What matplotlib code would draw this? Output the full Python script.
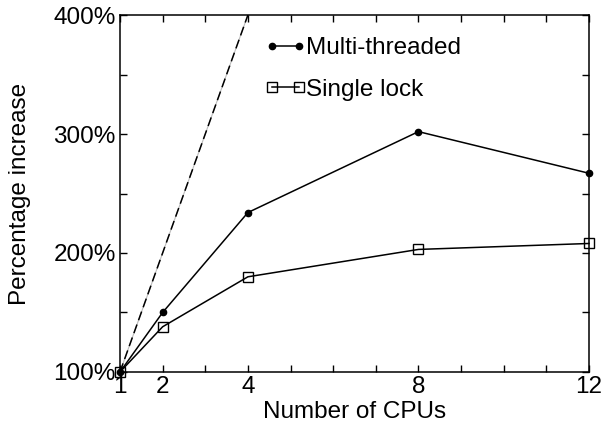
import matplotlib
matplotlib.use('Agg')
import matplotlib.pyplot as plt
import numpy as np

plt.rcParams['font.family'] = ['Liberation Sans', 'DejaVu Sans']

cpus = [1, 2, 4, 8, 12]
multi_threaded = [100, 150, 234, 302, 267]
single_lock = [100, 138, 180, 203, 208]
ideal_x = [1, 4]
ideal_y = [100, 400]
xtick_labels = ['1', '2', '4', '8', '12']
ytick_vals = [100, 200, 300, 400]

fs = 17.5

fig = plt.figure(figsize=(6.1, 4.23), dpi=100)
ax = fig.add_axes([0.1967, 0.1206, 0.7689, 0.8439])

# linear speedup reference
ax.plot(ideal_x, ideal_y, color='#bbbbbb', linewidth=0.8, zorder=1)
ax.plot(ideal_x, ideal_y, color='black', linestyle=(0, (6, 3)), linewidth=1.1, zorder=2)

ax.plot(cpus, multi_threaded, color='black', linewidth=1.1, marker='o',
        markersize=4.5, label='Multi-threaded', zorder=3, clip_on=False)
ax.plot(cpus, single_lock, color='black', linewidth=1.1, marker='s',
        markersize=7.5, markerfacecolor='none', markeredgewidth=1.0,
        label='Single lock', zorder=3, clip_on=False)

ax.set_xlim(1, 12)
ax.set_ylim(100, 400)
ax.set_xticks(cpus)
ax.set_xticklabels(xtick_labels)
ax.set_xticks(np.arange(1, 13), minor=True)
ax.set_yticks(ytick_vals)
ax.set_yticklabels([f'{v}%' for v in ytick_vals])
ax.set_yticks(np.arange(100, 401, 50), minor=True)
ax.tick_params(which='both', direction='in', top=True, right=True,
               length=5, width=1.0, labelsize=fs, pad=3)

for s in ax.spines.values():
    s.set_linewidth(1.1)

ax.set_xlabel('Number of CPUs', fontsize=fs, labelpad=2)
ax.set_ylabel('Percentage increase', fontsize=fs, labelpad=16)

ax.legend(loc='upper left', bbox_to_anchor=(0.265, 0.995), frameon=False,
          numpoints=2, handlelength=1.7, handletextpad=0.0,
          labelspacing=0.8, fontsize=fs, borderaxespad=0.45)

plt.savefig('out.png', dpi=100)
